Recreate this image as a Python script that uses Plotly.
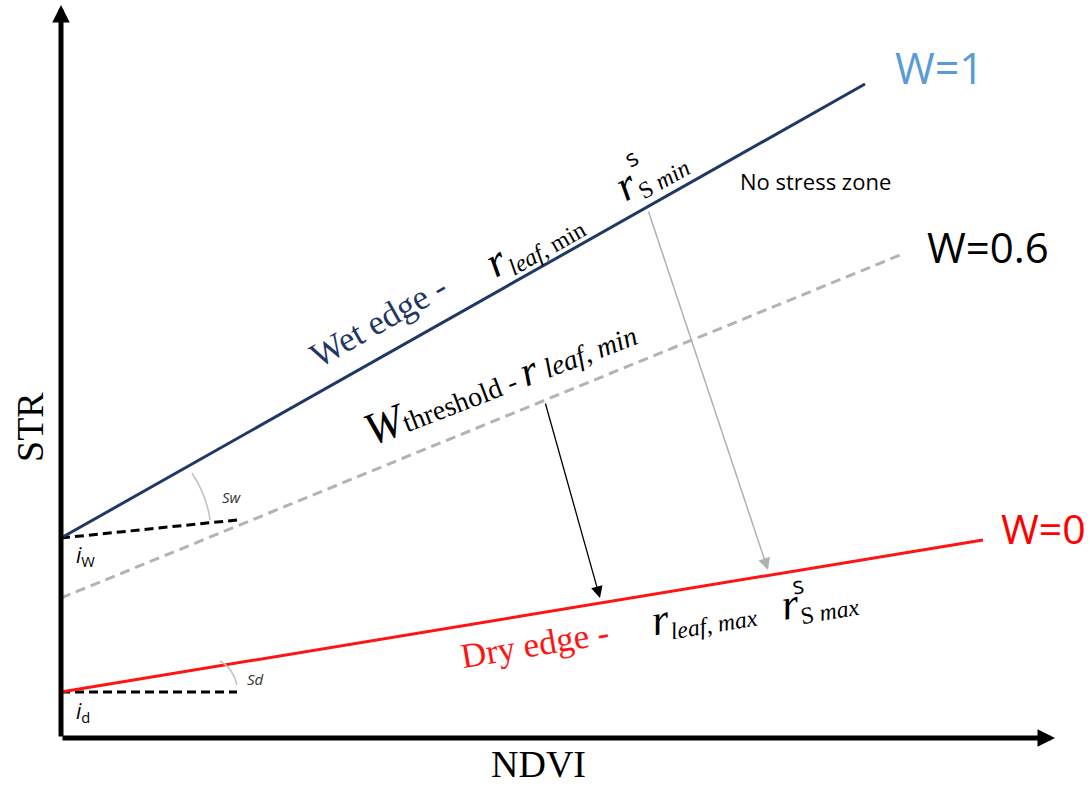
import plotly.graph_objects as go

# ---------------- data (NDVI / STR units of the conceptual diagram) ----------------
wet_ndvi = [0.0, 0.804]
wet_str = [0.200, 0.654]

thr_ndvi = [0.0, 0.844]
thr_str = [0.140, 0.485]

dry_ndvi = [0.0, 0.922]
dry_str = [0.046, 0.198]

iw_ref_ndvi = [0.0, 0.176]
iw_ref_str = [0.200, 0.218]

id_ref_ndvi = [0.0, 0.176]
id_ref_str = [0.046, 0.046]

# arrows: [start, end]
gray_arrow_ndvi = [0.587, 0.707]
gray_arrow_str = [0.528, 0.168]
black_arrow_ndvi = [0.484, 0.336 * 0 + 0.539]
black_arrow_str = [0.336, 0.140]

axis_x_end = 0.994
axis_y_end = 0.733

X_RANGE = [-0.061, 1.031]
Y_RANGE = [-0.049, 0.738]

SERIF = "Liberation Serif, Times New Roman, serif"
SANS = "Open Sans, Noto Sans, sans-serif"
NAVY = "#1f3864"
RED = "#ff1414"

fig = go.Figure()

fig.add_trace(go.Scatter(x=thr_ndvi, y=thr_str, mode="lines",
                         line=dict(color="#b3b3b3", width=3, dash="10px,6px"), hoverinfo="skip"))
fig.add_trace(go.Scatter(x=iw_ref_ndvi, y=iw_ref_str, mode="lines",
                         line=dict(color="black", width=3, dash="9px,5px"), hoverinfo="skip"))
fig.add_trace(go.Scatter(x=id_ref_ndvi, y=id_ref_str, mode="lines",
                         line=dict(color="black", width=3, dash="9px,5px"), hoverinfo="skip"))
fig.add_trace(go.Scatter(x=wet_ndvi, y=wet_str, mode="lines",
                         line=dict(color=NAVY, width=3), hoverinfo="skip"))
fig.add_trace(go.Scatter(x=dry_ndvi, y=dry_str, mode="lines",
                         line=dict(color=RED, width=3), hoverinfo="skip"))

# angle arcs
fig.add_shape(type="path", xref="x", yref="y",
              path="M 0.131,0.265 Q 0.146,0.242 0.149,0.218",
              line=dict(color="#c0c0c0", width=1.5))
fig.add_shape(type="path", xref="x", yref="y",
              path="M 0.159,0.077 Q 0.172,0.070 0.176,0.053",
              line=dict(color="#c0c0c0", width=1.5))

ann = []


def arrow(x0, y0, x1, y1, color, width, head, size):
    ann.append(dict(x=x1, y=y1, ax=x0, ay=y0, xref="x", yref="y", axref="x", ayref="y",
                    text="", showarrow=True, arrowhead=head, arrowsize=size,
                    arrowwidth=width, arrowcolor=color, standoff=0, startstandoff=0))


# axes
arrow(0, 0, 0, axis_y_end, "black", 5, 2, 0.7)
arrow(0, 0, axis_x_end, 0, "black", 5, 2, 0.7)
# process arrows
arrow(gray_arrow_ndvi[0], gray_arrow_str[0], gray_arrow_ndvi[1], gray_arrow_str[1], "#b0b0b0", 1.5, 2, 1.6)
arrow(black_arrow_ndvi[0], black_arrow_str[0], black_arrow_ndvi[1], black_arrow_str[1], "black", 1.3, 2, 1.8)


def note(x, y, text, size, color="black", angle=0, family=SERIF):
    ann.append(dict(x=x, y=y, xref="x", yref="y", text=text, showarrow=False,
                    textangle=angle, xanchor="center", yanchor="middle",
                    font=dict(family=family, size=size, color=color)))


R = "<span style='font-size:44px'><i>r</i></span>"

# edge labels
note(0.878, 0.671, "W=1", 43, "#5b9bd5", family=SANS)
note(0.927, 0.492, "W=0.6", 42, "black", family=SANS)
note(0.982, 0.210, "W=0", 41, "#ff0000", family=SANS)
note(0.754, 0.557, "No stress zone", 22, "black", family=SANS)

# axis titles
note(-0.031, 0.311, "STR", 38, angle=-90)
note(0.477, -0.026, "NDVI", 38)

# intercepts / slopes
note(0.024, 0.182, "<i>i</i><sub>W</sub>", 21, family=SANS)
note(0.022, 0.026, "<i>i</i><sub>d</sub>", 21, family=SANS)
note(0.171, 0.241, "<i>Sw</i>", 15, "#333333", family=SANS)
note(0.194, 0.059, "<i>Sd</i>", 15, "#333333", family=SANS)

# wet edge text
note(0.317, 0.417, "Wet edge -", 35, NAVY, angle=-29.5)
note(0.472, 0.497, R + "<sub><i>leaf</i>, min</sub>", 34, angle=-29.5)
note(0.589, 0.566, R + "<sub>S <i>min</i></sub>", 34, angle=-29.5)
note(0.569, 0.581, "s", 24, angle=-29.5, family=SANS)

# threshold text
note(0.438, 0.358,
     "<span style='font-size:46px'><i>W</i></span><span style='font-size:28px'>threshold</span> - "
     "<span style='font-size:42px'><i>r</i></span> <i>leaf</i>, <i>min</i>",
     28, angle=-21)

# dry edge text
note(0.474, 0.094, "Dry edge -", 35, RED, angle=-9.5)
note(0.642, 0.125, R + "<sub><i>leaf</i>, <i>max</i></sub>", 34, angle=-9.5)
note(0.758, 0.138, R + "<sub>S <i>max</i></sub>", 34, angle=-9.5)
note(0.736, 0.154, "s", 24, angle=-9.5, family=SANS)

fig.update_layout(
    width=1092, height=787,
    margin=dict(l=0, r=0, t=0, b=0),
    paper_bgcolor="white", plot_bgcolor="white",
    showlegend=False,
    xaxis=dict(range=X_RANGE, visible=False, fixedrange=True),
    yaxis=dict(range=Y_RANGE, visible=False, fixedrange=True),
    annotations=ann,
)

fig.write_html("out.html")
